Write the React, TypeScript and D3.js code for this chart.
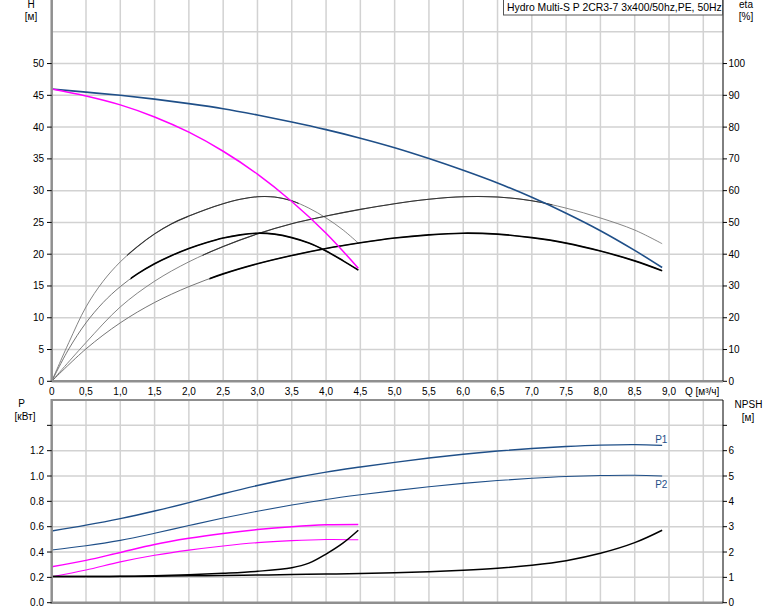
import * as d3 from "d3";

// flow points (m3/h)
const qFull = [0, 0.5, 1, 1.5, 2, 2.5, 3, 3.5, 4, 4.5, 5, 5.5, 6, 6.5, 7, 7.5, 8, 8.5, 8.9];
const qRed = [0, 0.25, 0.5, 0.75, 1, 1.25, 1.5, 1.75, 2, 2.25, 2.5, 2.75, 3, 3.25, 3.5, 3.75, 4, 4.25, 4.47];
const qRedP = [0, 0.5, 1, 1.5, 2, 2.5, 3, 3.5, 4, 4.47];
const qRedNpsh = [0, 0.5, 1, 1.5, 2, 2.5, 3, 3.5, 3.75, 4, 4.25, 4.47];

// head H [m]
const hFull = [46, 45.5, 45, 44.4, 43.7, 42.9, 41.9, 40.8, 39.6, 38.25, 36.75, 35.05, 33.2, 31.2, 28.95, 26.45, 23.7, 20.6, 17.9];
const hRed = [46, 44.9, 43.5, 41.6, 39.2, 36.2, 32.6, 28.3, 23.3, 17.8];

// efficiency eta [%]
const eta1Full = [0, 12.2, 23.4, 31.5, 37.6, 42.4, 46.4, 49.6, 52.0, 54.1, 55.9, 57.3, 58.1, 58.0, 56.8, 54.5, 51.4, 47.6, 43.3];
const eta2Full = [0, 10.2, 18.4, 24.8, 29.8, 33.8, 37.0, 39.6, 41.8, 43.6, 45.1, 46.1, 46.6, 46.3, 45.2, 43.5, 41.0, 37.9, 34.8];
const eta1Red = [0, 12.2, 23.4, 31.5, 37.6, 42.4, 46.4, 49.6, 52.0, 54.1, 55.9, 57.3, 58.1, 58.0, 56.8, 54.5, 51.4, 47.6, 43.5];
const eta2Red = [0, 10.2, 18.4, 24.8, 29.8, 33.8, 37.0, 39.6, 41.8, 43.6, 45.1, 46.1, 46.6, 46.3, 45.2, 43.5, 41.0, 37.9, 35.0];

// power P [kW]
const p1Full = [0.566, 0.612, 0.664, 0.724, 0.79, 0.86, 0.925, 0.982, 1.031, 1.071, 1.108, 1.142, 1.172, 1.197, 1.217, 1.233, 1.244, 1.248, 1.242];
const p2Full = [0.416, 0.449, 0.492, 0.548, 0.609, 0.668, 0.722, 0.771, 0.815, 0.852, 0.885, 0.915, 0.942, 0.964, 0.982, 0.996, 1.004, 1.006, 1.0];
const p1Red = [0.284, 0.334, 0.397, 0.46, 0.508, 0.546, 0.577, 0.6, 0.615, 0.618];
const p2Red = [0.205, 0.258, 0.322, 0.374, 0.415, 0.448, 0.474, 0.49, 0.499, 0.497];

// NPSH [m]
const npshFull = [1.03, 1.03, 1.035, 1.045, 1.06, 1.075, 1.09, 1.11, 1.13, 1.155, 1.185, 1.225, 1.28, 1.36, 1.48, 1.66, 1.95, 2.37, 2.86];
const npshRed = [1.03, 1.03, 1.04, 1.06, 1.1, 1.16, 1.24, 1.38, 1.56, 1.92, 2.36, 2.86];

const qTicks = [0, 0.5, 1, 1.5, 2, 2.5, 3, 3.5, 4, 4.5, 5, 5.5, 6, 6.5, 7, 7.5, 8, 8.5, 9];
const hTicks = [0, 5, 10, 15, 20, 25, 30, 35, 40, 45, 50];
const etaTicks = [0, 10, 20, 30, 40, 50, 60, 70, 80, 90, 100];
const pTicks = [0, 0.2, 0.4, 0.6, 0.8, 1.0, 1.2];
const npshTicks = [0, 1, 2, 3, 4, 5, 6];

const title = "Hydro Multi-S P 2CR3-7 3x400/50hz,PE, 50Hz";

const W = 774;
const H = 611;
const left = 51.7;
const right = 723;
const FONT = "'Liberation Sans', Arial, sans-serif";
const GRID = "#d2d2d2";
const AXIS = "#8f8f8f";
const BLUE = "#1f4f88";
const MAGENTA = "#ff00ff";

const x = d3.scaleLinear().domain([0, 9.5]).range([left, 703.3]);
const yH = d3.scaleLinear().domain([0, 60]).range([381.3, 0]);
const yEta = d3.scaleLinear().domain([0, 120]).range([381.3, 0]);
const yP = d3.scaleLinear().domain([0, 1.6]).range([602.7, 400]);
const yN = d3.scaleLinear().domain([0, 8]).range([602.7, 400]);

const mk = (qs: number[], vs: number[], y: d3.ScaleLinear<number, number>) =>
  d3
    .line<number>()
    .x((_, i) => x(qs[i]))
    .y((v) => y(v))
    .curve(d3.curveCatmullRom.alpha(0.5))(vs) || "";

const fmtQ = (v: number) => (v === 0 ? "0" : v.toFixed(1).replace(".", ","));

export default function App() {
  const vGrid = d3.range(1, 20).map((i) => i * 0.5);
  const hGridTop = d3.range(1, 12).map((i) => i * 5);
  const hGridBot = d3.range(1, 8).map((i) => i * 0.2);

  const curve = (d: string, stroke: string, w: number, clip?: string) => (
    <path d={d} fill="none" stroke={stroke} strokeWidth={w} clipPath={clip ? `url(#${clip})` : undefined} />
  );

  return (
    <div style={{ position: "absolute", left: 0, top: 0 }}>
      <svg width={W} height={H} style={{ display: "block", fontFamily: FONT }}>
        <defs>
          <clipPath id="e2r">
            <rect x={x(1.15)} y={0} width={x(4.5) - x(1.15)} height={382} />
          </clipPath>
          <clipPath id="e2f">
            <rect x={x(2.3)} y={0} width={x(9) - x(2.3)} height={382} />
          </clipPath>
          <clipPath id="e1r">
            <rect x={x(1.1)} y={0} width={x(3.6) - x(1.1)} height={382} />
          </clipPath>
          <clipPath id="e1f">
            <rect x={x(2.2)} y={0} width={x(7.3) - x(2.2)} height={382} />
          </clipPath>
        </defs>
        <rect x={0} y={0} width={W} height={H} fill="#fff" />

        {/* grid */}
        {vGrid.map((q) => (
          <g key={"v" + q}>
            <line x1={x(q)} x2={x(q)} y1={0} y2={381} stroke={GRID} strokeWidth={1.5} />
            <line x1={x(q)} x2={x(q)} y1={400} y2={603} stroke={GRID} strokeWidth={1.5} />
          </g>
        ))}
        {hGridTop.map((h) => (
          <line key={"h" + h} x1={left} x2={right} y1={yH(h)} y2={yH(h)} stroke={GRID} strokeWidth={1.5} />
        ))}
        {hGridBot.map((p) => (
          <line key={"p" + p} x1={left} x2={right} y1={yP(p)} y2={yP(p)} stroke={GRID} strokeWidth={1.5} />
        ))}

        {/* top panel curves */}
        {curve(mk(qRed, eta1Red, yEta), "#777", 0.9)}
        {curve(mk(qRed, eta1Red, yEta), "#333", 1.1, "e1r")}
        {curve(mk(qFull, eta1Full, yEta), "#777", 0.9)}
        {curve(mk(qFull, eta1Full, yEta), "#333", 1.1, "e1f")}
        {curve(mk(qRed, eta2Red, yEta), "#666", 0.9)}
        {curve(mk(qRed, eta2Red, yEta), "#000", 1.7, "e2r")}
        {curve(mk(qFull, eta2Full, yEta), "#666", 0.9)}
        {curve(mk(qFull, eta2Full, yEta), "#000", 1.7, "e2f")}
        {curve(mk(qFull, hFull, yH), BLUE, 1.6)}
        {curve(mk(qRedP, hRed, yH), MAGENTA, 1.5)}

        {/* bottom panel curves */}
        {curve(mk(qFull, p1Full, yP), BLUE, 1.4)}
        {curve(mk(qFull, p2Full, yP), BLUE, 1.1)}
        {curve(mk(qRedP, p1Red, yP), MAGENTA, 1.5)}
        {curve(mk(qRedP, p2Red, yP), MAGENTA, 1.1)}
        {curve(mk(qFull, npshFull, yN), "#000", 1.5)}
        {curve(mk(qRedNpsh, npshRed, yN), "#000", 1.5)}
        <text x={x(8.9) - 7} y={443} fontSize={10} fill={BLUE}>P1</text>
        <text x={x(8.9) - 7} y={488} fontSize={10} fill={BLUE}>P2</text>

        {/* axes lines */}
        <line x1={left} x2={left} y1={0} y2={382} stroke={AXIS} strokeWidth={2.5} />
        <line x1={left} x2={right} y1={381.3} y2={381.3} stroke={AXIS} strokeWidth={2.5} />
        <line x1={right} x2={right} y1={0} y2={381} stroke="#000" strokeWidth={1} />
        <line x1={left} x2={left} y1={399} y2={604} stroke={AXIS} strokeWidth={2.5} />
        <line x1={left} x2={right} y1={400} y2={400} stroke={AXIS} strokeWidth={2} />
        <line x1={left} x2={right} y1={602.7} y2={602.7} stroke={AXIS} strokeWidth={2.5} />
        <line x1={right} x2={right} y1={400} y2={603} stroke="#000" strokeWidth={1} />

        {/* left H ticks */}
        {hTicks.map((h) => (
          <g key={"ht" + h}>
            <line x1={47} x2={left} y1={yH(h)} y2={yH(h)} stroke="#000" />
            <text x={44} y={yH(h) + 3.5} fontSize={10} textAnchor="end">{h}</text>
          </g>
        ))}
        {etaTicks.map((e) => (
          <g key={"et" + e}>
            <line x1={right} x2={right + 4} y1={yEta(e)} y2={yEta(e)} stroke="#000" />
            <text x={728.5} y={yEta(e) + 3.5} fontSize={10}>{e}</text>
          </g>
        ))}
        {qTicks.map((q) => (
          <text key={"qt" + q} x={x(q)} y={395} fontSize={10} textAnchor="middle">{fmtQ(q)}</text>
        ))}
        <text x={685} y={395} fontSize={10}>Q [м³/ч]</text>

        {pTicks.concat([1.4]).map((p) => (
          <g key={"pt" + p}>
            <line x1={47} x2={left} y1={yP(p)} y2={yP(p)} stroke="#000" />
            {p < 1.3 && (
              <text x={44} y={yP(p) + 3.5} fontSize={10} textAnchor="end">{p.toFixed(1)}</text>
            )}
          </g>
        ))}
        {npshTicks.concat([7]).map((n) => (
          <g key={"nt" + n}>
            <line x1={right} x2={right + 4} y1={yN(n)} y2={yN(n)} stroke="#000" />
            {n < 7 && (
              <text x={728.5} y={yN(n) + 3.5} fontSize={10}>{n}</text>
            )}
          </g>
        ))}

        {/* axis titles */}
        <text x={31} y={8} fontSize={10} textAnchor="middle">H</text>
        <text x={31} y={20} fontSize={10} textAnchor="middle">[м]</text>
        <text x={746} y={8} fontSize={10} textAnchor="middle">eta</text>
        <text x={746} y={20} fontSize={10} textAnchor="middle">[%]</text>
        <text x={21.5} y={407} fontSize={10} textAnchor="middle">P</text>
        <text x={25} y={420} fontSize={10} textAnchor="middle">[кВт]</text>
        <text x={748.5} y={408} fontSize={10} textAnchor="middle">NPSH</text>
        <text x={748} y={421} fontSize={10} textAnchor="middle">[м]</text>

        {/* title box */}
        <rect x={503.5} y={-1} width={219} height={16} fill="#fff" stroke="#555" strokeWidth={1} />
        <text x={507} y={11} fontSize={10.4}>{title}</text>
      </svg>
    </div>
  );
}
